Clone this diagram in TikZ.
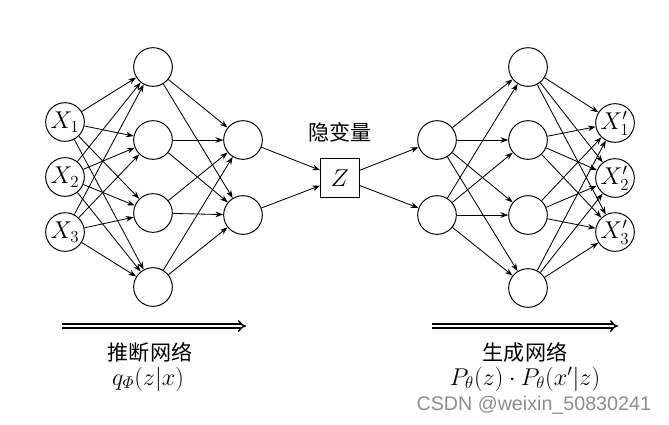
\documentclass[tikz,border=0pt]{standalone}
\usepackage{amsmath}
\usepackage{fontspec}
\newfontfamily\cjk{Noto Sans CJK SC}
\newfontfamily\wmfont{Liberation Sans}
\usetikzlibrary{arrows.meta}

\tikzset{
	neuron/.style={circle, draw, line width=0.7pt, minimum size=27.5pt, inner sep=0pt, font=\fontsize{17}{20}\selectfont},
	latent/.style={draw, line width=0.7pt, minimum size=27.5pt, inner sep=0pt, font=\fontsize{17}{20}\selectfont},
	link/.style={line width=0.6pt, -{Stealth[length=5.5pt,width=4pt]}},
	flow/.style={double, line width=1pt, double distance=1.8pt, -{Implies}},
	title/.style={font=\cjk\fontsize{15}{18}\selectfont},
	formula/.style={font=\fontsize{17}{20}\selectfont},
}

\begin{document}
\begin{tikzpicture}[x=0.025cm, y=-0.025cm]
		%%%%% START %%%%%
		\useasboundingbox (0,0) rectangle (669,424);
		
		% encoder
		\foreach \i/\y in {1/122,2/177,3/232} \node[neuron] (x\i) at (65,\y) {$X_\i$};
		\foreach \i/\y in {1/67,2/140,3/213,4/287} \node[neuron] (a\i) at (153,\y) {};
		\foreach \i/\y in {1/140,2/215} \node[neuron] (b\i) at (243,\y) {};
		
		% latent
		\node[latent] (z) at (340,178) {$Z$};
		\node[title] (zlabel) at (340,132) {隐变量};
		
		% decoder
		\foreach \i/\y in {1/140,2/215} \node[neuron] (c\i) at (437,\y) {};
		\foreach \i/\y in {1/67,2/140,3/215,4/288} \node[neuron] (d\i) at (528,\y) {};
		\foreach \i/\y in {1/123,2/178,3/232} \node[neuron] (y\i) at (615,\y) {$X'_\i$};
		
		\foreach \i in {1,2,3} \foreach \j in {1,...,4} \draw[link] (x\i) -- (a\j);
		\foreach \i in {1,...,4} \foreach \j in {1,2} \draw[link] (a\i) -- (b\j);
		\foreach \j in {1,2} \draw[link] (b\j) -- (z);
		\foreach \j in {1,2} \draw[link] (z) -- (c\j);
		\foreach \i in {1,2} \foreach \j in {1,...,4} \draw[link] (c\i) -- (d\j);
		\foreach \i in {1,...,4} \foreach \j in {1,2,3} \draw[link] (d\i) -- (y\j);
		
		% bottom
		\coordinate (e0) at (62,326);
		\coordinate (e1) at (246,326);
		\coordinate (g0) at (432,326);
		\coordinate (g1) at (618,326);
		\draw[flow] (e0) -- (e1);
		\draw[flow] (g0) -- (g1);
		
		\node[title] (enc) at (150,352) {推断网络};
		\node[formula] (encf) at (148,379) {$q_{\varPhi}(z|x)$};
		\node[title] (gen) at (525,352) {生成网络};
		\node[formula] (genf) at (525,379) {$P_\theta(z)\cdot P_\theta(x'|z)$};
		
		\node[font=\wmfont\fontsize{14}{17}\selectfont, text=black!45, anchor=east] (wm) at (656,405) {CSDN @weixin\_50830241};
		%%%%% END %%%%%
\end{tikzpicture}
\end{document}
